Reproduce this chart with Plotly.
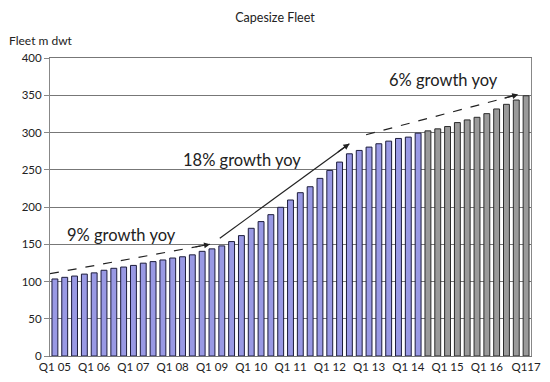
import plotly.graph_objects as go

quarters = [f"Q{q} {y:02d}" for y in range(5, 17) for q in range(1, 5)] + ["Q1 17"]
fleet = [103.4, 105.6, 107.3, 109.9, 111.6, 115.1, 117.7, 119.4, 121.6, 124.6,
         126.7, 128.9, 131.5, 133.2, 135.8, 140.5, 143.8, 147.8, 153.6, 161.6,
         171.4, 180.4, 189.7, 199.6, 209.4, 219.2, 227.2, 238.4, 249.1, 260.3,
         271.4, 275.9, 280.4, 284.9, 288.4, 292.0, 293.8, 299.1, 302.2, 304.9,
         308.0, 313.3, 316.9, 320.4, 325.3, 331.6, 337.8, 343.6, 349.3]
n_actual = 38  # Q1 05 .. Q2 14 actual, rest forecast

tick_idx = list(range(0, len(quarters), 4))
tick_text = ["Q1 05", "Q1 06", "Q1 07", "Q1 08", "Q1 09", "Q1 10", "Q1 11",
             "Q1 12", "Q1 13", "Q1 14", "Q1 15", "Q1 16", "Q117"]

labels = ["9% growth yoy", "18% growth yoy", "6% growth yoy"]
label_x = [6.8, 19.1, 39.6]
label_y = [163, 263, 370]
arrow_tail = [(-0.5, 110.5), (16.8, 158), (31.7, 297)]
arrow_head = [(15.8, 150), (30.0, 285), (47.2, 351)]
arrow_dash = ["dash", "solid", "dash"]

FONT = "Lato, 'Open Sans', sans-serif"
idx = list(range(len(quarters)))

fig = go.Figure()
fig.add_bar(x=idx[:n_actual], y=fleet[:n_actual], width=0.6,
            marker=dict(color="#9999E4", line=dict(color="#1c1c3c", width=1)),
            customdata=quarters[:n_actual], hovertemplate="%{customdata}: %{y}<extra></extra>")
fig.add_bar(x=idx[n_actual:], y=fleet[n_actual:], width=0.6,
            marker=dict(color="#9a9a9a", line=dict(color="#2b2b2b", width=1)),
            customdata=quarters[n_actual:], hovertemplate="%{customdata}: %{y}<extra></extra>")

shapes = []
annotations = []
for (tx, ty), (hx, hy), d in zip(arrow_tail, arrow_head, arrow_dash):
    shapes.append(dict(type="line", xref="x", yref="y", x0=tx, y0=ty, x1=hx, y1=hy,
                       line=dict(color="#222222", width=1.2, dash=d)))
    annotations.append(dict(x=hx, y=hy, ax=hx - 0.1 * (hx - tx), ay=hy - 0.1 * (hy - ty),
                            xref="x", yref="y", axref="x", ayref="y", text="",
                            showarrow=True, arrowhead=2, arrowsize=1, arrowwidth=1.2,
                            arrowcolor="#222222"))
for t, x, y in zip(labels, label_x, label_y):
    annotations.append(dict(x=x, y=y, xref="x", yref="y", text=t, showarrow=False,
                            font=dict(family=FONT, size=16.5, color="#222222")))
annotations.append(dict(x=-0.09, y=1.06, xref="paper", yref="paper", xanchor="left",
                        yanchor="middle", text="Fleet m dwt", showarrow=False,
                        font=dict(family=FONT, size=12, color="#222222")))

fig.update_layout(
    width=550, height=382,
    margin=dict(l=50, r=9, t=58, b=26),
    paper_bgcolor="white", plot_bgcolor="white",
    showlegend=False, barmode="overlay",
    title=dict(text="Capesize Fleet", x=0.5, xanchor="center", y=0.955, yanchor="middle",
               font=dict(family=FONT, size=12.5, color="#222222")),
    font=dict(family=FONT, size=11.5, color="#222222"),
    shapes=shapes, annotations=annotations,
    xaxis=dict(range=[-0.5, len(quarters) - 0.5], tickmode="array", tickvals=tick_idx,
               ticktext=tick_text, showgrid=False, showline=True, linecolor="#777777",
               mirror=True, ticks="", tickfont=dict(size=11.5), zeroline=False,
               ticklabeloverflow="allow"),
    yaxis=dict(range=[0, 400], dtick=50, showgrid=True, gridcolor="#777777", gridwidth=1,
               showline=True, linecolor="#888888", mirror=True, ticks="outside",
               ticklen=5, tickcolor="#888888", zeroline=False, tickfont=dict(size=11.5)),
)

fig.write_html("out.html")
